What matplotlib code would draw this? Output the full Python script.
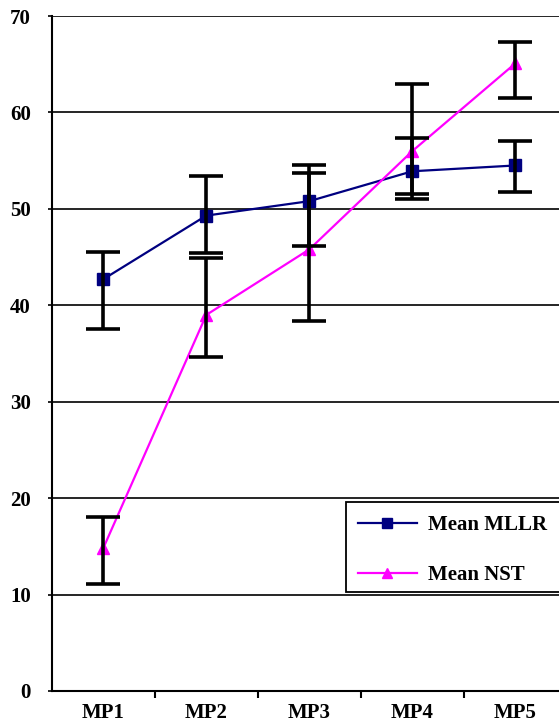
import matplotlib
matplotlib.use("Agg")
import matplotlib.pyplot as plt
from matplotlib.patches import Rectangle
import numpy as np

categories = ["MP1", "MP2", "MP3", "MP4", "MP5"]
mllr = [42.7, 49.3, 50.8, 53.9, 54.5]
mllr_lo = [37.5, 45.4, 46.1, 51.0, 51.7]
mllr_hi = [45.5, 53.4, 54.6, 57.4, 57.0]
nst = [14.8, 39.0, 45.8, 56.0, 65.1]
nst_lo = [11.1, 34.6, 38.4, 51.5, 61.5]
nst_hi = [18.0, 44.9, 53.7, 63.0, 67.3]
yticks = [0, 10, 20, 30, 40, 50, 60, 70]

plt.rcParams['font.family'] = ['Liberation Serif', 'DejaVu Serif']
plt.rcParams['font.weight'] = 'bold'

fig = plt.figure(figsize=(5.59, 7.26), dpi=100)
W, H = 559, 726
left, right = 51.7, 567.0
top, bottom = 16.0, 691.0
ax = fig.add_axes([left / W, 1 - bottom / H, (right - left) / W, (bottom - top) / H])

x = np.arange(1, len(categories) + 1)
m = np.array(mllr); n = np.array(nst)
m_err = [m - np.array(mllr_lo), np.array(mllr_hi) - m]
n_err = [n - np.array(nst_lo), np.array(nst_hi) - n]

ax.plot(x, mllr, color='#000080', lw=1.6, marker='s', markersize=9, zorder=3, label='Mean MLLR')
ax.plot(x, nst, color='#FF00FF', lw=1.6, marker='^', markersize=9, zorder=3, label='Mean NST')
ax.errorbar(x, mllr, yerr=m_err, fmt='none', ecolor='black', elinewidth=2.6,
            capsize=12, capthick=2.6, zorder=4)
ax.errorbar(x, nst, yerr=n_err, fmt='none', ecolor='black', elinewidth=2.6,
            capsize=12, capthick=2.6, zorder=4)

ax.set_xlim(0.5, 5.5)
ax.set_ylim(0, 70)
ax.set_yticks(yticks)
ax.set_yticklabels([str(v) for v in yticks], fontsize=15, fontweight='bold')
for v in yticks[1:]:
    ax.axhline(v, color='black', lw=1.2, zorder=1)

ax.set_xticks(np.arange(1.5, 5.5, 1.0))
ax.set_xticklabels([])
ax.set_xticks(x, minor=True)
ax.set_xticklabels(categories, minor=True, fontsize=15, fontweight='bold')
ax.tick_params(axis='x', which='major', direction='out', length=5, width=1.5, color='black')
ax.tick_params(axis='x', which='minor', length=0, pad=9)
ax.tick_params(axis='y', direction='out', length=3, width=1.2, pad=12)

for s in ['top', 'right']:
    ax.spines[s].set_visible(False)
ax.spines['left'].set_linewidth(1.5)
ax.spines['bottom'].set_linewidth(1.5)

# legend box extends past the right edge as in the reference
box = Rectangle((345.7 / W, 1 - 592.3 / H), (575 - 345.7) / W, 90 / H,
                transform=fig.transFigure, facecolor='white', edgecolor='black',
                lw=1.3, zorder=5)
fig.add_artist(box)
leg = fig.legend(loc='upper left', bbox_to_anchor=(352 / W, 1 - 509 / H),
                 prop={'family': 'Liberation Serif', 'weight': 'bold', 'size': 15},
                 frameon=False, handlelength=2.8,
                 labelspacing=1.45, borderpad=0.3, handletextpad=0.55, borderaxespad=0)
leg.set_zorder(6)
for h in leg.legend_handles:
    h.set_markersize(7)

fig.savefig("out.png", dpi=100)
